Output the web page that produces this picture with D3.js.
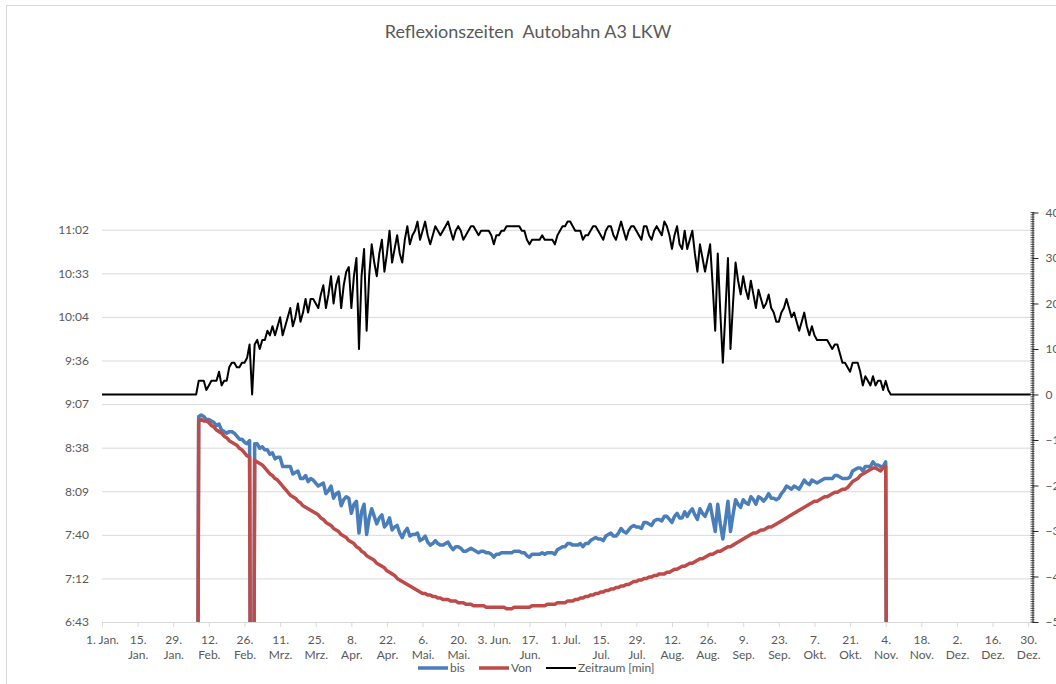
<!DOCTYPE html>
<html>
<head>
<meta charset="utf-8">
<script src="https://cdn.jsdelivr.net/npm/d3@7"></script>
<style>
  body { margin: 0; background: #fff; }
  svg { display: block; font-family: Lato, "Open Sans", sans-serif; }
  .title { white-space: pre; }
</style>
</head>
<body>
<svg width="1056" height="684"></svg>
<script>
// --- data (day index 0 = 1. Jan. 2016, times in minutes after midnight) ---
const dayTicks = [0, 14, 28, 42, 56, 70, 84, 98, 112, 126, 140, 154, 168, 182,
  196, 210, 224, 238, 252, 266, 280, 294, 308, 322, 336, 350, 364];
const dayLabels = [["1. Jan."], ["15.", "Jan."], ["29.", "Jan."], ["12.", "Feb."], ["26.", "Feb."],
  ["11.", "Mrz."], ["25.", "Mrz."], ["8.", "Apr."], ["22.", "Apr."], ["6.", "Mai."], ["20.", "Mai."],
  ["3. Jun."], ["17.", "Jun."], ["1. Jul."], ["15.", "Jul."], ["29.", "Jul."], ["12.", "Aug."],
  ["26.", "Aug."], ["9.", "Sep."], ["23.", "Sep."], ["7.", "Okt."], ["21.", "Okt."], ["4.", "Nov."],
  ["18.", "Nov."], ["2.", "Dez."], ["16.", "Dez."], ["30.", "Dez."]];

// left axis ticks (0.28 ... 0.46 of a day) in minutes
const timeTicks = [403.2, 432, 460.8, 489.6, 518.4, 547.2, 576, 604.8, 633.6, 662.4];
const minTicks = [-50, -40, -30, -20, -10, 0, 10, 20, 30, 40];

// von / bis start at day 37
const timeStart = 37;
const von = [
  0, 536, 537, 536, 536, 535, 533, 532, 530, 529,
  528, 526, 525, 523, 522, 521, 520, 518, 517, 515,
  513, 512, 0, 510, 509, 508, 507, 505, 503, 501,
  500, 498, 497, 495, 493, 491, 489, 487, 486, 485,
  483, 482, 480, 479, 478, 477, 476, 475, 474, 472,
  471, 469, 468, 467, 465, 464, 463, 461, 460, 459,
  457, 456, 455, 453, 452, 450, 449, 447, 446, 445,
  444, 442, 441, 440, 439, 437, 436, 435, 434, 432,
  431, 430, 429, 428, 427, 426, 425, 424, 423, 422,
  422, 421, 421, 420, 420, 419, 419, 418, 418, 418,
  417, 417, 417, 416, 416, 416, 415, 415, 415, 414,
  414, 414, 414, 414, 413, 413, 413, 413, 413, 413,
  413, 413, 412, 412, 412, 413, 413, 413, 413, 413,
  413, 413, 414, 414, 414, 414, 414, 414, 415, 415,
  415, 415, 416, 416, 416, 416, 417, 417, 417, 418,
  418, 419, 419, 420, 420, 421, 421, 422, 422, 423,
  423, 424, 424, 425, 425, 426, 426, 427, 427, 428,
  428, 429, 430, 430, 431, 431, 432, 432, 433, 433,
  434, 434, 435, 435, 435, 436, 436, 437, 438, 438,
  439, 440, 440, 441, 442, 442, 443, 444, 445, 445,
  446, 447, 448, 448, 449, 450, 450, 451, 452, 453,
  453, 454, 455, 456, 457, 458, 459, 460, 461, 462,
  462, 463, 464, 464, 465, 466, 466, 467, 468, 469,
  470, 471, 472, 473, 474, 475, 476, 477, 478, 479,
  480, 481, 482, 483, 483, 484, 485, 486, 486, 487,
  488, 489, 489, 490, 491, 491, 492, 494, 496, 497,
  498, 500, 501, 502, 503, 504, 505, 505, 504, 503,
  505, 506, 0
];
const bis = [
  0, 539, 540, 539, 537, 537, 536, 535, 533, 534,
  530, 529, 528, 529, 529, 528, 526, 524, 524, 522,
  521, 523, 0, 521, 521, 518, 519, 517, 517, 514,
  515, 511, 512, 512, 506, 506, 506, 506, 501, 502,
  503, 498, 498, 500, 496, 498, 497, 495, 493, 494,
  495, 488, 490, 493, 485, 488, 489, 480, 484, 486,
  485, 475, 481, 483, 462, 476, 481, 461, 472, 478,
  473, 468, 472, 474, 466, 468, 472, 464, 466, 467,
  462, 459, 463, 465, 460, 461, 461, 462, 457, 458,
  460, 456, 454, 455, 457, 455, 454, 454, 455, 456,
  453, 451, 453, 453, 452, 450, 450, 451, 452, 451,
  450, 449, 450, 450, 449, 449, 448, 446, 448, 448,
  449, 449, 449, 449, 449, 450, 450, 450, 449, 449,
  447, 446, 448, 448, 448, 448, 449, 448, 449, 449,
  449, 448, 451, 452, 453, 453, 455, 455, 454, 454,
  454, 455, 453, 455, 455, 457, 458, 459, 458, 458,
  457, 460, 461, 462, 460, 460, 462, 465, 463, 462,
  464, 466, 467, 466, 466, 465, 469, 469, 468, 467,
  470, 471, 471, 470, 473, 473, 471, 469, 473, 475,
  472, 472, 476, 473, 476, 478, 474, 471, 478, 475,
  473, 477, 481, 472, 463, 481, 468, 458, 470, 483,
  463, 474, 484, 481, 479, 484, 482, 481, 486, 484,
  481, 486, 485, 483, 485, 488, 485, 485, 484, 485,
  488, 490, 493, 492, 491, 493, 492, 491, 494, 497,
  495, 494, 497, 496, 495, 496, 497, 498, 498, 498,
  498, 500, 500, 499, 498, 498, 498, 499, 503, 504,
  505, 505, 503, 506, 506, 506, 509, 507, 507, 506,
  506, 509, 0
];
// Zeitraum [min], day 0 ... 365
const zeitraum = [
  0, 0, 0, 0, 0, 0, 0, 0, 0, 0,
  0, 0, 0, 0, 0, 0, 0, 0, 0, 0,
  0, 0, 0, 0, 0, 0, 0, 0, 0, 0,
  0, 0, 0, 0, 0, 0, 0, 0, 3, 3,
  3, 1, 2, 3, 3, 3, 5, 2, 3, 3,
  6, 7, 7, 6, 6, 7, 7, 8, 11, 0,
  11, 12, 10, 12, 12, 14, 13, 15, 13, 15,
  17, 13, 15, 17, 19, 15, 17, 20, 16, 18,
  21, 18, 21, 21, 20, 19, 22, 24, 19, 22,
  26, 20, 24, 26, 19, 24, 27, 28, 19, 26,
  30, 10, 26, 32, 14, 26, 33, 29, 26, 31,
  34, 27, 31, 36, 29, 32, 35, 31, 29, 34,
  37, 33, 35, 36, 38, 34, 36, 38, 35, 33,
  35, 37, 36, 35, 36, 37, 38, 36, 34, 36,
  37, 36, 34, 35, 36, 37, 37, 36, 35, 36,
  36, 36, 36, 35, 33, 35, 35, 36, 36, 37,
  37, 37, 37, 37, 37, 36, 36, 34, 33, 34,
  34, 34, 34, 35, 34, 34, 34, 34, 33, 35,
  36, 37, 37, 38, 38, 37, 36, 36, 36, 34,
  35, 35, 36, 37, 37, 36, 35, 34, 36, 37,
  37, 35, 34, 36, 38, 36, 34, 36, 37, 37,
  36, 35, 34, 37, 37, 35, 34, 36, 37, 36,
  35, 38, 37, 35, 32, 35, 37, 33, 32, 36,
  32, 34, 36, 31, 27, 33, 30, 27, 30, 33,
  24, 14, 31, 18, 7, 18, 30, 10, 20, 29,
  25, 22, 26, 23, 21, 25, 22, 19, 23, 21,
  19, 20, 22, 19, 18, 16, 16, 18, 19, 21,
  19, 17, 18, 16, 14, 16, 18, 15, 13, 15,
  13, 12, 12, 12, 12, 12, 11, 10, 11, 11,
  9, 7, 7, 6, 5, 7, 7, 7, 5, 2,
  4, 3, 2, 4, 2, 3, 3, 1, 3, 1,
  0, 0, 0, 0, 0, 0, 0, 0, 0, 0,
  0, 0, 0, 0, 0, 0, 0, 0, 0, 0,
  0, 0, 0, 0, 0, 0, 0, 0, 0, 0,
  0, 0, 0, 0, 0, 0, 0, 0, 0, 0,
  0, 0, 0, 0, 0, 0, 0, 0, 0, 0,
  0, 0, 0, 0, 0, 0
];

const series = [
  { name: "bis", values: bis, start: timeStart, color: "#4a7ebb", width: 3.5, legendX: 418 },
  { name: "Von", values: von, start: timeStart, color: "#be4b48", width: 3.5, legendX: 479 },
  { name: "Zeitraum [min]", values: zeitraum, start: 0, color: "#000000", width: 2, legendX: 546 }
];

// --- layout ---
const svg = d3.select("svg");
const plot = { left: 102, right: 1032, top: 212.5, bottom: 622 };
const textColor = "#595959";

const x = d3.scaleLinear().domain([0, 365.5]).range([plot.left, plot.right]);
const yTime = d3.scaleLinear().domain([403.2, 673.8]).range([plot.bottom, plot.top]);
const yMin = d3.scaleLinear().domain([-50, 40]).range([plot.bottom, plot.top]);

const fmtTime = v => {
  const h = Math.floor(v / 60), m = Math.floor(v % 60);
  return h + ":" + String(m).padStart(2, "0");
};

// chart border
svg.append("rect")
  .attr("x", 6.5).attr("y", 5.5)
  .attr("width", 1100).attr("height", 700)
  .attr("fill", "none").attr("stroke", "#d9d9d9");

// title
svg.append("text")
  .attr("class", "title")
  .attr("x", 528).attr("y", 38)
  .attr("text-anchor", "middle")
  .attr("fill", textColor)
  .style("font-size", "18px")
  .text("Reflexionszeiten  Autobahn A3 LKW");

// gridlines
const grid = svg.append("g")
  .attr("transform", `translate(${plot.left},0)`)
  .call(d3.axisLeft(yTime).tickValues(timeTicks).tickSize(-(plot.right - plot.left)).tickFormat(""));
grid.select(".domain").remove();
grid.selectAll("line").attr("stroke", "#d9d9d9");

// left axis labels
const yAxisL = svg.append("g")
  .attr("transform", `translate(${plot.left},0)`)
  .call(d3.axisLeft(yTime).tickValues(timeTicks).tickSize(0).tickPadding(13).tickFormat(fmtTime));
yAxisL.select(".domain").remove();
yAxisL.selectAll("text").attr("fill", textColor).style("font-size", "12px").style("font-family", "Lato");

// bottom axis
const xAxis = svg.append("g")
  .attr("transform", `translate(0,${plot.bottom})`)
  .call(d3.axisBottom(x).tickValues(dayTicks).tickSize(5).tickSizeOuter(0).tickFormat(""));
xAxis.select(".domain").attr("stroke", "#d9d9d9");
xAxis.selectAll("line").attr("stroke", "#d9d9d9");
xAxis.selectAll(".tick").each(function(d, i) {
  const t = d3.select(this).append("text")
    .attr("fill", textColor)
    .attr("text-anchor", "middle")
    .style("font-size", "12px")
    .style("font-family", "Lato");
  dayLabels[i].forEach((line, j) => {
    t.append("tspan").attr("x", 0).attr("y", 22 + j * 15).text(line);
  });
});

// right axis with minor ticks
const yAxisR = svg.append("g")
  .attr("transform", `translate(${plot.right + 0.5},0)`)
  .call(d3.axisRight(yMin).tickValues(minTicks).tickSize(6).tickPadding(7).tickSizeOuter(0));
yAxisR.select(".domain").attr("stroke", "#262626");
yAxisR.selectAll("line").attr("stroke", "#262626");
yAxisR.selectAll("text").attr("fill", textColor).style("font-size", "12px").style("font-family", "Lato");
yAxisR.selectAll(".minor")
  .data(d3.range(-50, 40.01, 0.5))
  .enter().append("line")
  .attr("class", "minor")
  .attr("x1", -2).attr("x2", 2)
  .attr("y1", d => yMin(d)).attr("y2", d => yMin(d))
  .attr("stroke", "#262626").attr("stroke-width", 0.8);

// series
svg.append("clipPath").attr("id", "plotClip")
  .append("rect")
  .attr("x", plot.left).attr("y", plot.top - 5)
  .attr("width", plot.right - plot.left).attr("height", plot.bottom - plot.top + 5);

const lines = svg.append("g").attr("clip-path", "url(#plotClip)");
series.forEach(s => {
  const yScale = s.name === "Zeitraum [min]" ? yMin : yTime;
  const line = d3.line()
    .x((d, i) => x(s.start + i))
    .y(d => yScale(d));
  lines.append("path")
    .datum(s.values)
    .attr("d", line)
    .attr("fill", "none")
    .attr("stroke", s.color)
    .attr("stroke-width", s.width)
    .attr("stroke-linejoin", "round");
});

// legend
const legend = svg.append("g").attr("transform", "translate(0,668)");
series.forEach(s => {
  legend.append("line")
    .attr("x1", s.legendX).attr("x2", s.legendX + 30)
    .attr("stroke", s.color).attr("stroke-width", s.width);
  legend.append("text")
    .attr("x", s.legendX + 32).attr("y", 4)
    .attr("fill", textColor)
    .style("font-size", "12px")
    .text(s.name);
});
</script>
</body>
</html>
